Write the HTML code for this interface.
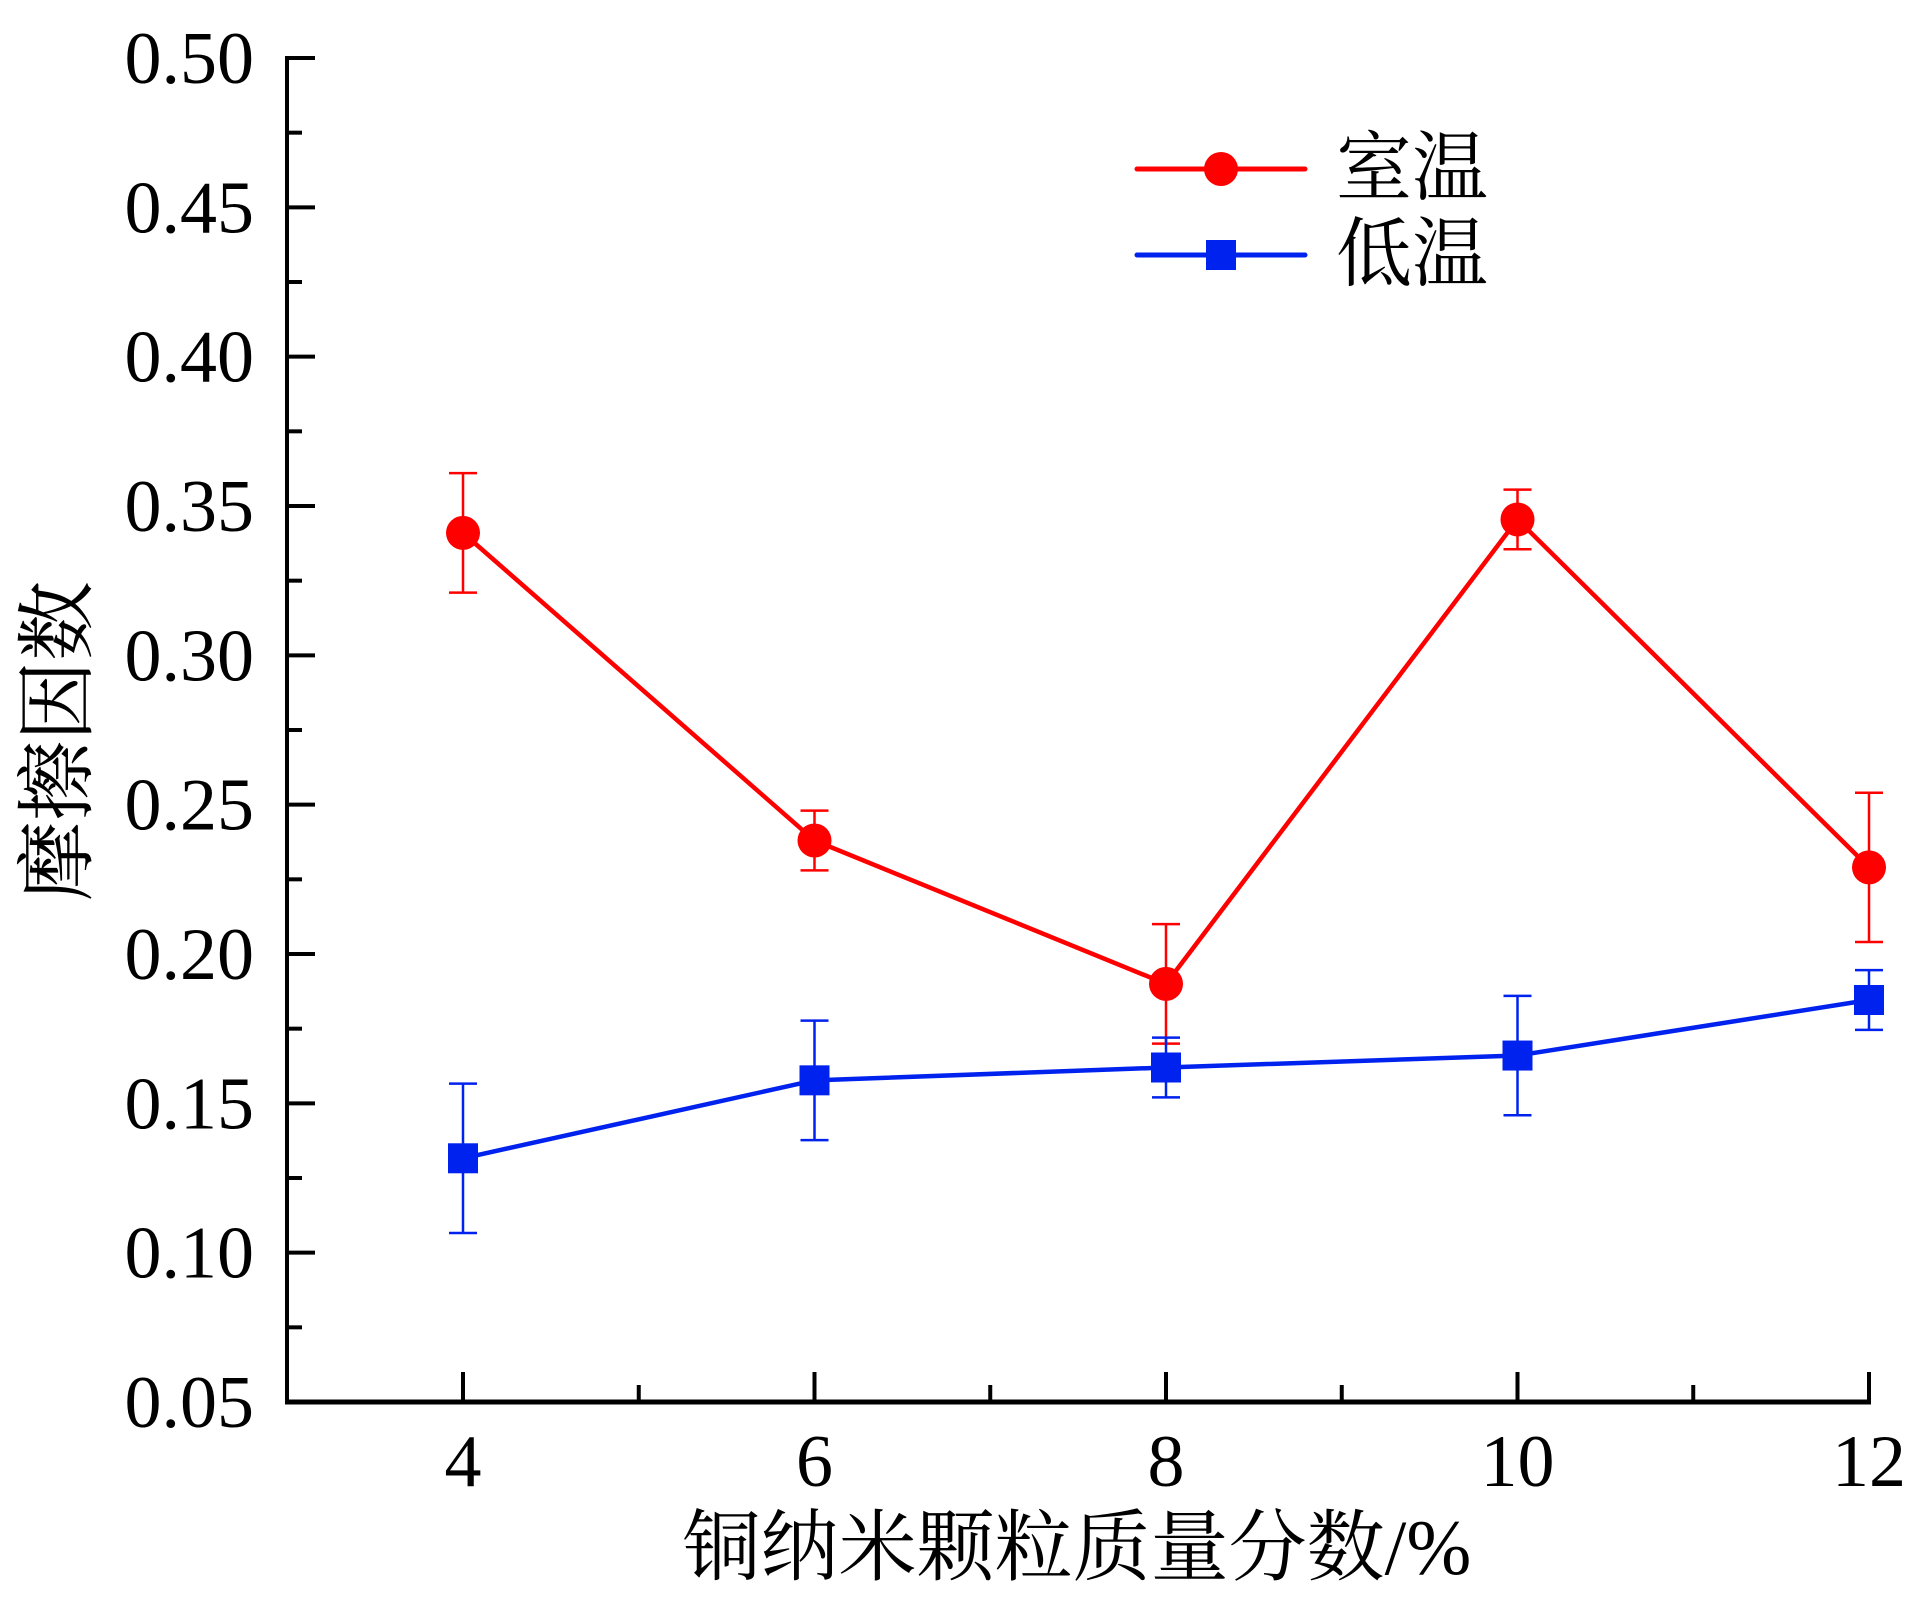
<!DOCTYPE html>
<html><head><meta charset="utf-8">
<style>
html,body{margin:0;padding:0;background:#fff;}
svg{display:block;}
text{font-family:"Liberation Serif","Noto Serif CJK SC",serif;fill:#000;}
text.num{font-family:"Liberation Serif",serif;}
</style></head>
<body>
<svg id="chart" width="1909" height="1600" viewBox="0 0 1909 1600" xmlns="http://www.w3.org/2000/svg">
<g id="axes"></g>
<g id="series"></g>
<g id="legend">
  <line x1="1137" y1="169" x2="1305" y2="169" stroke="#ff0000" stroke-width="5" stroke-linecap="round"/>
  <circle cx="1221" cy="169" r="17" fill="#ff0000"/>
  <text x="1336" y="194" font-size="76">室温</text>
  <line x1="1137" y1="255" x2="1305" y2="255" stroke="#0022ee" stroke-width="5" stroke-linecap="round"/>
  <rect x="1206" y="240" width="30" height="30" fill="#0022ee"/>
  <text x="1336" y="280" font-size="76">低温</text>
</g>
<text x="1077" y="1574" font-size="78" text-anchor="middle">铜纳米颗粒质量分数/%</text>
<text transform="translate(85,741) rotate(-90)" x="0" y="0" font-size="80" text-anchor="middle">摩擦因数</text>
</svg>
<script>
const categories = [4, 6, 8, 10, 12];
const roomValues = [0.341, 0.238, 0.190, 0.3455, 0.229];
const roomErrors = [0.020, 0.010, 0.020, 0.010, 0.025];
const lowValues = [0.1316, 0.1577, 0.162, 0.166, 0.1846];
const lowErrors = [0.025, 0.020, 0.010, 0.020, 0.010];
const yTickLabels = ["0.05","0.10","0.15","0.20","0.25","0.30","0.35","0.40","0.45","0.50"];
const xTickLabels = ["4","6","8","10","12"];

const NS = "http://www.w3.org/2000/svg";
const X0 = 287, YB = 1402;
function xs(v){ return 463 + (v - 4) * (1869 - 463) / 8; }
function ys(v){ return 1402 - (v - 0.05) * (1402 - 58) / 0.45; }
function mk(tag, attrs, parent){
  const e = document.createElementNS(NS, tag);
  for (const k in attrs) e.setAttribute(k, attrs[k]);
  parent.appendChild(e);
  return e;
}
const axes = document.getElementById('axes');
const series = document.getElementById('series');

let e = mk('line', {x1:X0, y1:56, x2:X0, y2:YB, stroke:'#000', 'stroke-width':4}, axes);


e = mk('line', {x1:X0-2, y1:YB, x2:1871, y2:YB, stroke:'#000', 'stroke-width':5}, axes);



yTickLabels.forEach((lab, i) => {
  const v = parseFloat(lab);
  const y = ys(v);
  const t = mk('line', {x1:X0, y1:y, x2:X0+28, y2:y, stroke:'#000', 'stroke-width':4}, axes);
  
  
  if (i < yTickLabels.length - 1) {
    const ym = ys(v + 0.025);
    const m = mk('line', {x1:X0, y1:ym, x2:X0+15, y2:ym, stroke:'#000', 'stroke-width':4}, axes);
    
    
  }
  const tx = mk('text', {x:254, y:y+25, 'font-size':74, 'text-anchor':'end', 'class':'num'}, axes);
  tx.textContent = lab;
  
  
});

xTickLabels.forEach((lab, i) => {
  const v = parseFloat(lab);
  const x = xs(v);
  const t = mk('line', {x1:x, y1:YB, x2:x, y2:YB-30, stroke:'#000', 'stroke-width':4}, axes);
  
  
  if (i < xTickLabels.length - 1) {
    const xm = xs(v + 1);
    const m = mk('line', {x1:xm, y1:YB, x2:xm, y2:YB-17, stroke:'#000', 'stroke-width':4}, axes);
    
    
  }
  const tx = mk('text', {x:x, y:1486, 'font-size':74, 'text-anchor':'middle', 'class':'num'}, axes);
  tx.textContent = lab;
  
  
});

function drawSeries(vals, errs, color, shape, name){
  const g = mk('g', {}, series);
  
  
  vals.forEach((v, i) => {
    const x = xs(categories[i]);
    const y1 = ys(v + errs[i]), y2 = ys(v - errs[i]);
    const eb = mk('path', {d:`M${x},${y1}V${y2}M${x-14},${y1}H${x+14}M${x-14},${y2}H${x+14}`, stroke:color, 'stroke-width':2.5, fill:'none'}, g);
    
    
  });
  const pts = vals.map((v, i) => xs(categories[i]) + ',' + ys(v)).join(' ');
  const pl = mk('polyline', {points:pts, stroke:color, 'stroke-width':4.5, fill:'none'}, g);
  
  
  vals.forEach((v, i) => {
    const x = xs(categories[i]), y = ys(v);
    let m;
    if (shape === 'circle') m = mk('circle', {cx:x, cy:y, r:17, fill:color}, g);
    else m = mk('rect', {x:x-15, y:y-15, width:30, height:30, fill:color}, g);
    
    
  });
}
drawSeries(roomValues, roomErrors, '#ff0000', 'circle', 'room-temp');
drawSeries(lowValues, lowErrors, '#0022ee', 'square', 'low-temp');
</script>
</body></html>
